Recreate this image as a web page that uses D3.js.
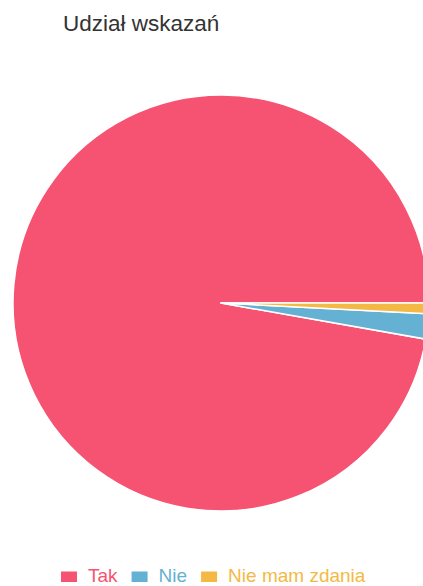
<!DOCTYPE html>
<html>
<head>
<meta charset="utf-8">
<script src="https://cdn.jsdelivr.net/npm/d3@7"></script>
<style>
  html, body { margin: 0; padding: 0; background: #fff; }
  svg { display: block; }
  text { font-family: "Liberation Sans", Arial, sans-serif; }
</style>
</head>
<body>
<svg id="chart" width="423" height="586"></svg>
<script>
const title = "Udział wskazań";
const categories = ["Tak", "Nie", "Nie mam zdania"];
const values = [350, 7, 3];
const colors = ["#f65372", "#64b1d3", "#f4b944"];

const svg = d3.select("#chart");
const cx = 221, cy = 303, R = 208;

svg.append("text")
  .attr("x", 63).attr("y", 31)
  .attr("font-size", 22.5)
  .attr("fill", "#333")
  .text(title);

const pie = d3.pie().sort(null)
  .startAngle(Math.PI / 2)
  .endAngle(Math.PI / 2 - 2 * Math.PI);
const arc = d3.arc().innerRadius(0).outerRadius(R);
const color = d3.scaleOrdinal().domain(categories).range(colors);

const data = categories.map((c, i) => ({ cat: c, val: values[i] }));

svg.append("g")
  .attr("transform", `translate(${cx},${cy})`)
  .selectAll("path")
  .data(pie.value(d => d.val)(data))
  .join("path")
  .attr("d", arc)
  .attr("fill", d => color(d.data.cat))
  .attr("stroke", "#fff")
  .attr("stroke-width", 1.5)
  .attr("stroke-linejoin", "round");

// legend
const legend = svg.append("g");
const fontSize = 19;
const boxW = 16, boxH = 10.5, gap = 11, itemGap = 14;
const ly = 582;
let x = 61;
categories.forEach((c, i) => {
  const g = legend.append("g");
  g.append("rect")
    .attr("x", x).attr("y", ly - boxH)
    .attr("width", boxW).attr("height", boxH)
    .attr("fill", color(c));
  const t = g.append("text")
    .attr("x", x + boxW + gap).attr("y", ly)
    .attr("font-size", fontSize)
    .attr("fill", color(c))
    .text(c);
  const w = t.node().getComputedTextLength();
  x += boxW + gap + w + itemGap;
});
</script>
</body>
</html>
